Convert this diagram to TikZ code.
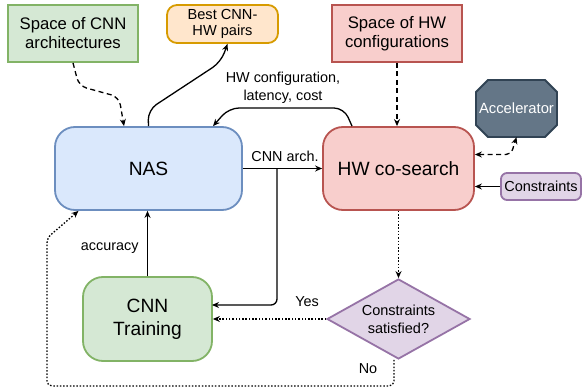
\documentclass[tikz,border=0pt]{standalone}
\usepackage{fontspec}
\setmainfont{Liberation Sans}
\usetikzlibrary{arrows.meta,shapes.geometric,calc}
\definecolor{gfill}{HTML}{D5E8D4}\definecolor{gline}{HTML}{82B366}
\definecolor{ofill}{HTML}{FFE6CC}\definecolor{oline}{HTML}{D79B00}
\definecolor{rfill}{HTML}{F8CECC}\definecolor{rline}{HTML}{B85450}
\definecolor{bfill}{HTML}{DAE8FC}\definecolor{bline}{HTML}{6C8EBF}
\definecolor{pfill}{HTML}{E1D5E7}\definecolor{pline}{HTML}{9673A6}
\definecolor{afill}{HTML}{647687}\definecolor{aline}{HTML}{314354}
\begin{document}
\begin{tikzpicture}[x=1pt,y=-1pt,
  box/.style={draw,line width=1.8pt,inner sep=0pt,align=center,font=\fontsize{16.7}{19}\selectfont},
  bigbox/.style={box,rounded corners=20pt,font=\fontsize{19.2}{23}\selectfont},
  conn/.style={line width=1.3pt,-{Stealth[length=7pt,width=6pt]}},
  dashconn/.style={conn,dash pattern=on 5pt off 3.5pt},
  dotconn/.style={conn,dash pattern=on 1.5pt off 1.8pt},
  lbl/.style={font=\fontsize{14.4}{17.5}\selectfont,align=center}]
\useasboundingbox (0,0) rectangle (584,390);
% nodes
\node[box,fill=gfill,draw=gline,minimum width=130pt,minimum height=57pt] (scnn) at (73,33.5) {Space of CNN\\architectures};
\node[box,fill=ofill,draw=oline,rounded corners=10pt,minimum width=111pt,minimum height=38pt,font=\fontsize{14.6}{16.5}\selectfont] (best) at (222.5,24) {Best CNN-\\HW pairs};
\node[box,fill=rfill,draw=rline,minimum width=130pt,minimum height=57pt] (shw) at (397,33.5) {Space of HW\\configurations};
\node[bigbox,fill=bfill,draw=bline,minimum width=187pt,minimum height=83pt] (nas) at (148.5,168.5) {NAS};
\node[bigbox,fill=rfill,draw=rline,minimum width=151pt,minimum height=83pt] (hw) at (398.5,168.5) {HW co-search};
\node[bigbox,fill=gfill,draw=gline,minimum width=129pt,minimum height=84pt] (ct) at (147.5,319) {CNN\\Training};
\node[box,fill=pfill,draw=pline,rounded corners=6pt,minimum width=80pt,minimum height=27pt,font=\fontsize{14.5}{16}\selectfont] (cons) at (541,186.5) {Constraints};
\node[box,diamond,fill=pfill,draw=pline,minimum width=143pt,minimum height=80pt,aspect=1.79,font=\fontsize{14.5}{18}\selectfont] (dia) at (398.5,319) {Constraints\\satisfied?};
% accelerator octagon
\fill[afill,draw=aline,line width=1.8pt] (476,92) -- (488,80) -- (545,80) -- (557,92) -- (557,125) -- (545,137) -- (488,137) -- (476,125) -- cycle;
\node[inner sep=0pt,minimum width=81pt,minimum height=57pt,text=white,font=\fontsize{14.8}{16}\selectfont] (acc) at (516.5,108.5) {Accelerator};
% connectors
\draw[dashconn,rounded corners=8pt] (scnn.south) -- (79,86) -- (119,97) -- ([xshift=-24.5pt]nas.north);
\draw[conn,rounded corners=10pt] (nas.north) -- (148,110) -- (221,62) -- ([xshift=5pt]best.south);
\draw[conn,rounded corners=10pt] ([xshift=-46.5pt]hw.north) -- (344,108) -- (229,108) -- ([xshift=64.5pt]nas.north);
\node[lbl] (lhw) at (283,88) {HW configuration,\\latency, cost};
\draw[conn] (nas.east) -- (hw.east -| hw.west);
\node[lbl] (larch) at (285,156) {CNN arch.};
\coordinate (br) at (277,168.5);
\draw[conn,rounded corners=6pt] (br) -- (277,305) -- (212,305);
\draw[conn] (ct.north) -- (ct.north |- nas.south);
\node[lbl,anchor=east] (lacc) at (142,248) {accuracy};
\draw[dashconn] (shw.south) -- (shw.south |- hw.north);
\draw[dashconn,{Stealth[length=7pt,width=6pt]}-{Stealth[length=7pt,width=6pt]},rounded corners=5pt] ([yshift=14pt]hw.east) -- (511,154.5) -- (acc.south);
\draw[conn] (cons.west) -- (cons.west -| hw.east);
\draw[dotconn] (hw.south) -- (dia.north);
\draw[dotconn] (dia.west) -- (dia.west -| ct.east);
\node[lbl] (lyes) at (307,302) {Yes};
\draw[dotconn,rounded corners=5pt] ([xshift=-4.5pt]dia.south) -- (394,386) -- (47,386) -- (47,238) -- ([xshift=-70pt]nas.south);
\node[lbl] (lno) at (368,369) {No};
\end{tikzpicture}
\end{document}
